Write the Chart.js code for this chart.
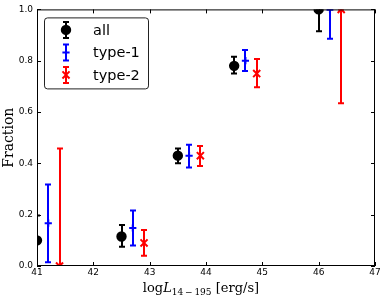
<!DOCTYPE html>
<html>
<head>
<meta charset="utf-8">
<script src="https://cdn.jsdelivr.net/npm/chart.js@4.4.1/dist/chart.umd.min.js"></script>
<style>
  html, body { margin: 0; padding: 0; background: #fff; }
  #wrap { width: 382px; height: 299px; }
</style>
</head>
<body>
<div id="wrap"><canvas id="fracChart"></canvas></div>
<script>
// values
const xAll = [41.0, 42.5, 43.5, 44.5, 46.0];
const fracAll = [0.10, 0.115, 0.43, 0.78, 1.0];
const lowAll = [0.0, 0.075, 0.40, 0.75, 0.915];
const highAll = [0.197, 0.16, 0.458, 0.815, 1.0];

const xType1 = [41.2, 42.7, 43.7, 44.7, 46.2];
const fracType1 = [0.167, 0.148, 0.43, 0.80, 1.0];
const lowType1 = [0.015, 0.08, 0.384, 0.76, 0.886];
const highType1 = [0.318, 0.216, 0.473, 0.842, 1.0];

const xType2 = [41.4, 42.9, 43.9, 44.9, 46.4];
const fracType2 = [0.0, 0.09, 0.43, 0.75, 1.0];
const lowType2 = [0.0, 0.04, 0.39, 0.697, 0.634];
const highType2 = [0.458, 0.14, 0.468, 0.807, 1.0];

const xTicks = [41, 42, 43, 44, 45, 46, 47];
const yTicks = [0.0, 0.2, 0.4, 0.6, 0.8, 1.0];

const toPoints = (xs, ys, lo, hi) => xs.map((x, i) => ({ x: x, y: ys[i], lo: lo[i], hi: hi[i] }));

const series = [
    { label: 'all', color: '#000000', style: 'circle', radius: 4.2, data: toPoints(xAll, fracAll, lowAll, highAll) },
    { label: 'type-1', color: '#0000ff', style: 'cross', radius: 3.6, data: toPoints(xType1, fracType1, lowType1, highType1) },
    { label: 'type-2', color: '#ff0000', style: 'crossRot', radius: 5, data: toPoints(xType2, fracType2, lowType2, highType2) }
];

const CAP = 3;

// vertical error bars with caps, drawn under the markers
const errorBars = {
    id: 'errorBars',
    beforeDatasetsDraw(chart) {
        const { ctx, chartArea: a, scales: { x, y } } = chart;
        ctx.save();
        ctx.beginPath();
        ctx.rect(a.left, a.top, a.right - a.left, a.bottom - a.top);
        ctx.clip();
        ctx.lineWidth = 2;
        chart.data.datasets.forEach(ds => {
            ctx.strokeStyle = ds.borderColor;
            ds.data.forEach(p => {
                const px = Math.round(x.getPixelForValue(p.x));
                const yl = y.getPixelForValue(p.lo);
                const yh = y.getPixelForValue(p.hi);
                ctx.beginPath();
                ctx.moveTo(px, yl); ctx.lineTo(px, yh);
                ctx.moveTo(px - CAP, yl); ctx.lineTo(px + CAP, yl);
                ctx.moveTo(px - CAP, yh); ctx.lineTo(px + CAP, yh);
                ctx.stroke();
            });
        });
        ctx.restore();
    }
};

// box around the axes with inward ticks (matplotlib classic look)
const frame = {
    id: 'frame',
    afterDatasetsDraw(chart) {
        const { ctx, chartArea: a, scales: { x, y } } = chart;
        ctx.save();
        ctx.strokeStyle = '#000';
        ctx.lineWidth = 1;
        ctx.strokeRect(a.left + 0.5, a.top + 0.5, a.right - a.left - 1, a.bottom - a.top - 1);
        ctx.beginPath();
        xTicks.forEach(v => {
            const px = Math.round(x.getPixelForValue(v)) + 0.5;
            ctx.moveTo(px, a.bottom); ctx.lineTo(px, a.bottom - 4);
            ctx.moveTo(px, a.top); ctx.lineTo(px, a.top + 4);
        });
        yTicks.forEach(v => {
            const py = Math.round(y.getPixelForValue(v)) + 0.5;
            ctx.moveTo(a.left, py); ctx.lineTo(a.left + 4, py);
            ctx.moveTo(a.right, py); ctx.lineTo(a.right - 4, py);
        });
        ctx.stroke();
        ctx.restore();
    }
};

function drawMarker(ctx, s, cx, cy) {
    Chart.helpers.drawPoint(ctx, { pointStyle: s.style, radius: s.radius, borderWidth: 2 }, cx, cy);
}

// legend with error-bar glyphs
const legendBox = {
    id: 'legendBox',
    afterDraw(chart) {
        const { ctx, chartArea: a } = chart;
        const left = a.left + 7, top = a.top + 8, w = 104, h = 71;
        ctx.save();
        ctx.fillStyle = '#fff';
        ctx.strokeStyle = '#222';
        ctx.lineWidth = 1;
        ctx.beginPath();
        ctx.roundRect(left + 0.5, top + 0.5, w, h, 3);
        ctx.fill();
        ctx.stroke();
        ctx.font = '14.5px "DejaVu Sans"';
        ctx.textBaseline = 'middle';
        series.forEach((s, i) => {
            const cy = top + 12.5 + i * 22.5;
            const cx = left + 22;
            ctx.strokeStyle = s.color;
            ctx.fillStyle = s.color;
            ctx.lineWidth = 2;
            ctx.beginPath();
            ctx.moveTo(cx, cy - 8); ctx.lineTo(cx, cy + 8);
            ctx.moveTo(cx - CAP, cy - 8); ctx.lineTo(cx + CAP, cy - 8);
            ctx.moveTo(cx - CAP, cy + 8); ctx.lineTo(cx + CAP, cy + 8);
            ctx.stroke();
            ctx.strokeStyle = s.color;
            drawMarker(ctx, s, cx, cy);
            ctx.fillStyle = '#000';
            ctx.fillText(s.label, left + 49, cy + 1);
        });
        ctx.restore();
    }
};

// axis titles: "Fraction" and log L_{14-195} [erg/s]
const axisTitles = {
    id: 'axisTitles',
    afterDraw(chart) {
        const { ctx, chartArea: a } = chart;
        ctx.save();
        ctx.fillStyle = '#000';
        ctx.textBaseline = 'alphabetic';
        // y title
        ctx.save();
        ctx.translate(13, (a.top + a.bottom) / 2);
        ctx.rotate(-Math.PI / 2);
        ctx.textAlign = 'center';
        ctx.font = '14px "DejaVu Serif"';
        ctx.fillText('Fraction', 0, 0);
        ctx.restore();
        // x title
        const parts = [
            { t: 'log', f: '13px "DejaVu Serif"', dy: 0 },
            { t: 'L', f: 'italic 13px "DejaVu Serif"', dy: 0 },
            { t: '14\u2009\u2212\u2009195', f: '9px "DejaVu Serif"', dy: 3 },
            { t: ' [erg/s]', f: '13px "DejaVu Serif"', dy: 0 }
        ];
        let total = 0;
        parts.forEach(p => { ctx.font = p.f; p.w = ctx.measureText(p.t).width; total += p.w; });
        let xx = 201 - total / 2;
        const base = 292;
        ctx.textAlign = 'left';
        parts.forEach(p => {
            ctx.font = p.f;
            ctx.fillText(p.t, xx, base + p.dy);
            xx += p.w;
        });
        ctx.restore();
    }
};

const ctx = document.getElementById('fracChart');
new Chart(ctx, {
    type: 'scatter',
    data: {
        datasets: series.map(s => ({
            label: s.label,
            data: s.data,
            pointStyle: s.style,
            pointRadius: s.radius,
            pointHoverRadius: s.radius,
            pointBorderWidth: 2,
            borderColor: s.color,
            backgroundColor: s.color,
            clip: 0
        }))
    },
    options: {
        responsive: true,
        maintainAspectRatio: false,
        animation: false,
        events: [],
        layout: { padding: { top: 4, right: 6, left: 0, bottom: 0 } },
        plugins: {
            legend: { display: false },
            tooltip: { enabled: false }
        },
        scales: {
            x: {
                type: 'linear',
                min: 41,
                max: 47,
                afterFit: s => { s.height = 33; },
                afterBuildTicks: s => { s.ticks = xTicks.map(v => ({ value: v })); },
                grid: { display: false, drawTicks: false },
                border: { display: false },
                ticks: {
                    padding: 1,
                    color: '#000',
                    font: { family: 'DejaVu Sans', size: 9 },
                    callback: v => String(v)
                }
            },
            y: {
                type: 'linear',
                min: 0,
                max: 1,
                afterFit: s => { s.width = 37; },
                afterBuildTicks: s => { s.ticks = yTicks.map(v => ({ value: v })); },
                grid: { display: false, drawTicks: false },
                border: { display: false },
                ticks: {
                    padding: 4,
                    color: '#000',
                    font: { family: 'DejaVu Sans', size: 9 },
                    callback: v => v.toFixed(1)
                }
            }
        }
    },
    plugins: [errorBars, frame, legendBox, axisTitles]
});
</script>
</body>
</html>
